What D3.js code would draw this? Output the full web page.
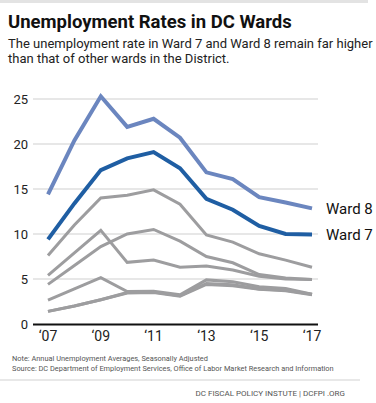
<!DOCTYPE html>
<html>
<head>
<meta charset="utf-8">
<script src="https://cdn.jsdelivr.net/npm/d3@7"></script>
<style>
  body { margin: 0; background: #fff; }
  svg { display: block; font-family: Roboto, "Noto Sans", sans-serif; }
</style>
</head>
<body>
<script>
var years = [2007, 2008, 2009, 2010, 2011, 2012, 2013, 2014, 2015, 2016, 2017]
var yTicks = [0, 5, 10, 15, 20, 25]
var xTicks = [2007, 2009, 2011, 2013, 2015, 2017]

var ward8 = [14.4, 20.4, 25.3, 21.9, 22.8, 20.7, 16.85, 16.1, 14.1, 13.5, 12.85]
var ward7 = [9.4, 13.4, 17.1, 18.4, 19.1, 17.3, 13.9, 12.7, 10.9, 10.0, 9.95]
var others = [
  [7.6, 11.0, 14.0, 14.3, 14.9, 13.3, 9.9, 9.1, 7.8, 7.1, 6.3],
  [5.4, 7.9, 10.4, 6.85, 7.1, 6.3, 6.44, 6.0, 5.3, 5.0, 4.95],
  [4.4, 6.5, 8.6, 10.0, 10.5, 9.2, 7.5, 6.8, 5.5, 5.1, 4.95],
  [2.65, 3.9, 5.15, 3.6, 3.65, 3.25, 4.9, 4.7, 4.15, 3.95, 3.3],
  [1.4, 2.0, 2.7, 3.45, 3.5, 3.1, 4.4, 4.25, 3.85, 3.7, 3.25],
  [1.4, 2.0, 2.7, 3.5, 3.55, 3.15, 4.5, 4.35, 3.9, 3.75, 3.3]
]

var width = 376, height = 403
var svg = d3.select('body').append('svg')
  .attr('width', width)
  .attr('height', height)

// top rule + titles
svg.append('rect').attr('x', 0).attr('y', 0).attr('width', 368).attr('height', 3).attr('fill', '#e3e3e3')
svg.append('text').attr('x', 8).attr('y', 28)
  .attr('font-size', 18.5).attr('font-weight', 700).attr('fill', '#111')
  .text('Unemployment Rates in DC Wards')
svg.append('text').attr('x', 8).attr('y', 48)
  .attr('font-size', 13).attr('fill', '#222')
  .text('The unemployment rate in Ward 7 and Ward 8 remain far higher')
svg.append('text').attr('x', 8).attr('y', 63)
  .attr('font-size', 13).attr('fill', '#222')
  .text('than that of other wards in the District.')

var x = d3.scaleLinear().domain([2007, 2017]).range([48, 312])
var y = d3.scaleLinear().domain([0, 25]).range([324, 99])

// gridlines
svg.append('g').selectAll('line')
  .data(yTicks.filter(d => d > 0))
  .enter().append('line')
    .attr('x1', 33).attr('x2', 318)
    .attr('y1', d => y(d)).attr('y2', d => y(d))
    .attr('stroke', '#cfcfcf').attr('stroke-width', 1)

// y labels
svg.append('g').selectAll('text')
  .data(yTicks)
  .enter().append('text')
    .attr('x', 28).attr('y', d => y(d) + 4.5)
    .attr('text-anchor', 'end')
    .attr('font-size', 13).attr('fill', '#222')
    .text(d => d)

var line = d3.line()
  .x((d, i) => x(years[i]))
  .y(d => y(d))

svg.append('g').selectAll('path')
  .data(others)
  .enter().append('path')
    .attr('d', line)
    .attr('fill', 'none')
    .attr('stroke', '#9d9d9f')
    .attr('stroke-width', 3)
    .attr('stroke-linejoin', 'miter')

svg.append('path').attr('d', line(ward8))
  .attr('fill', 'none').attr('stroke', '#6b86bf').attr('stroke-width', 4)
svg.append('path').attr('d', line(ward7))
  .attr('fill', 'none').attr('stroke', '#1f5ea3').attr('stroke-width', 4)

// x axis
svg.append('line').attr('x1', 33).attr('x2', 318)
  .attr('y1', y(0) + 0.5).attr('y2', y(0) + 0.5)
  .attr('stroke', '#111').attr('stroke-width', 2)

svg.append('g').selectAll('text')
  .data(xTicks)
  .enter().append('text')
    .attr('x', d => x(d)).attr('y', 341)
    .attr('text-anchor', 'middle')
    .attr('font-size', 14).attr('fill', '#222')
    .text(d => '\u2018' + String(d).slice(2))

// series labels
svg.append('text').attr('x', 326).attr('y', y(ward8[10]) + 5.5)
  .attr('font-size', 15).attr('fill', '#111').text('Ward 8')
svg.append('text').attr('x', 326).attr('y', y(ward7[10]) + 5.5)
  .attr('font-size', 15).attr('fill', '#111').text('Ward 7')

// notes
svg.append('text').attr('x', 12).attr('y', 361)
  .attr('font-size', 7.4).attr('fill', '#555')
  .text('Note: Annual Unemployment Averages, Seasonally Adjusted')
svg.append('text').attr('x', 12).attr('y', 370.5)
  .attr('font-size', 7.4).attr('fill', '#555')
  .text('Source: DC Department of Employment Services, Office of Labor Market Research and Information')

svg.append('rect').attr('x', 0).attr('y', 379).attr('width', 360).attr('height', 2).attr('fill', '#e8e8e8')
svg.append('text').attr('x', 345).attr('y', 396)
  .attr('text-anchor', 'end')
  .attr('font-size', 8).attr('fill', '#555')
  .text('DC FISCAL POLICY INSTUTE  |  DCFPI .ORG')
</script>
</body>
</html>
